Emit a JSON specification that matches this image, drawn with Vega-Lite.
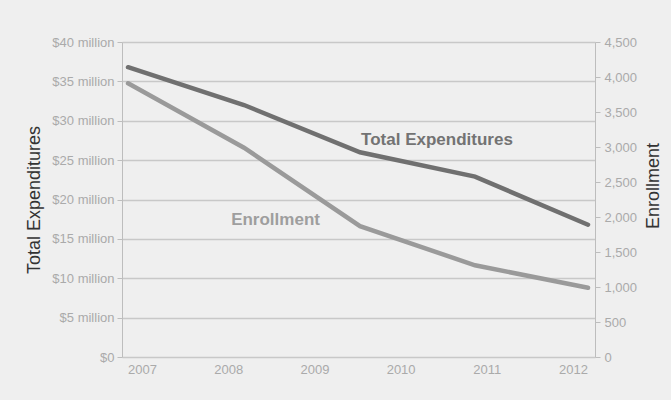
{
  "$schema": "https://vega.github.io/schema/vega-lite/v6.json",
  "width": 473,
  "height": 315,
  "autosize": {"type": "none"},
  "padding": {"left": 122, "top": 42, "right": 76, "bottom": 43},
  "background": "#efefef",
  "config": {
    "view": {"stroke": null},
    "font": "Liberation Sans",
    "axis": {
      "labelFont": "Liberation Sans",
      "labelFontSize": 13,
      "labelColor": "#aaaaaa",
      "labelOverlap": false,
      "titleFont": "Liberation Sans",
      "titleFontSize": 18,
      "titleFontWeight": "normal",
      "titleColor": "#333333",
      "domainColor": "#bdbdbd",
      "tickColor": "#bdbdbd",
      "gridColor": "#c8c8c8",
      "gridWidth": 1.5
    }
  },
  "datasets": {
    "series": [
      {"t": 2006.838, "expenditures": 36800000, "enrollment": 3910},
      {"t": 2008.183, "expenditures": 32000000, "enrollment": 2990},
      {"t": 2009.529, "expenditures": 26000000, "enrollment": 1870},
      {"t": 2010.863, "expenditures": 22900000, "enrollment": 1310},
      {"t": 2012.174, "expenditures": 16800000, "enrollment": 990}
    ],
    "labels": [
      {"t": 2010.422, "expenditures": 27560000, "label": "Total Expenditures"},
      {"t": 2008.549, "expenditures": 17400000, "label": "Enrollment"}
    ]
  },
  "layer": [
    {
      "encoding": {
        "x": {
          "field": "t", "type": "quantitative",
          "scale": {"domain": [2006.768, 2012.255], "nice": false, "zero": false},
          "axis": {"values": [2007, 2008, 2009, 2010, 2011, 2012], "format": "d", "ticks": false, "domain": false, "grid": false, "labelPadding": 6, "title": null}
        },
        "y": {
          "field": "expenditures", "type": "quantitative",
          "scale": {"domain": [0, 40000000], "nice": false},
          "axis": {
            "orient": "left",
            "values": [0, 5000000, 10000000, 15000000, 20000000, 25000000, 30000000, 35000000, 40000000],
            "labelExpr": "datum.value == 0 ? '$0' : '$' + datum.value / 1000000 + ' million'",
            "grid": true, "domain": true, "tickSize": 5, "labelPadding": 3,
            "title": "Total Expenditures", "titlePadding": 8
          }
        }
      },
      "layer": [
        {
          "data": {"name": "series"},
          "mark": {"type": "line", "color": "#707070", "strokeWidth": 4.5, "strokeCap": "round"}
        },
        {
          "data": {"name": "labels"},
          "mark": {"type": "text", "fontWeight": "bold", "fontSize": 17, "align": "center", "baseline": "middle", "font": "Liberation Sans"},
          "encoding": {
            "text": {"field": "label"},
            "color": {"field": "label", "type": "nominal", "scale": {"domain": ["Total Expenditures", "Enrollment"], "range": ["#737373", "#9e9e9e"]}, "legend": null}
          }
        }
      ]
    },
    {
      "data": {"name": "series"},
      "mark": {"type": "line", "color": "#9a9a9a", "strokeWidth": 4.5, "strokeCap": "round"},
      "encoding": {
        "x": {"field": "t", "type": "quantitative"},
        "y": {
          "field": "enrollment", "type": "quantitative",
          "scale": {"domain": [0, 4500], "nice": false},
          "axis": {
            "orient": "right",
            "values": [0, 500, 1000, 1500, 2000, 2500, 3000, 3500, 4000, 4500],
            "labelExpr": "format(datum.value, ',d')",
            "grid": false, "domain": true, "tickSize": 5, "labelPadding": 4,
            "title": "Enrollment", "titleAngle": 270, "titleX": 58, "titleY": 143.5,
            "titleBaseline": "middle", "titleAlign": "center"
          }
        }
      }
    }
  ],
  "resolve": {"scale": {"y": "independent"}}
}
